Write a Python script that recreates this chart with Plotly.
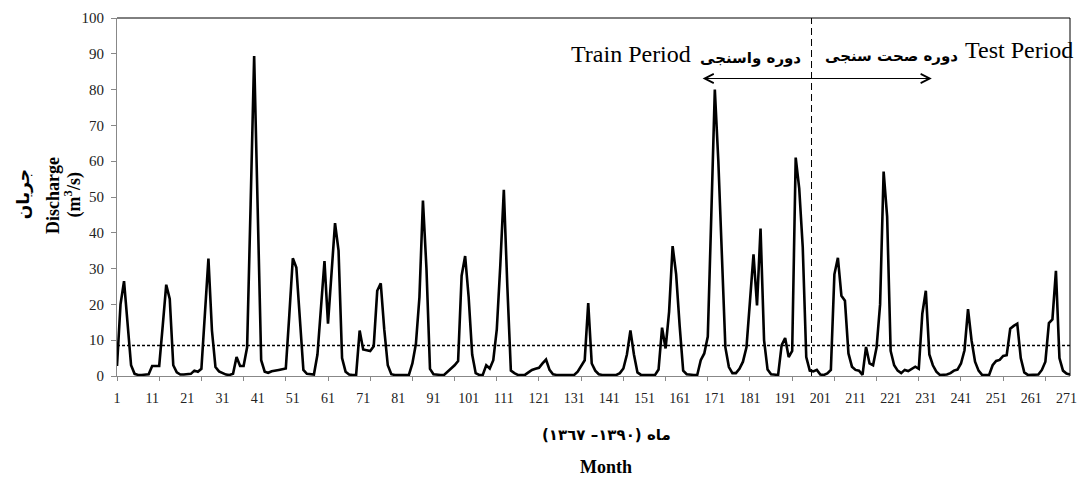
import plotly.graph_objects as go

# ---- data (monthly discharge, m3/s) ----
discharge = [
    2.8, 20, 26.5, 14, 3, 0.6, 0.3, 0.3, 0.3, 0.5,            # 1-10
    2.8, 2.8, 2.8, 14, 25.5, 21.5, 3, 1.0, 0.4, 0.4,          # 11-20
    0.4, 0.6, 1.5, 1.2, 2.0, 17, 32.8, 12.7, 2.5, 1.3,        # 21-30
    0.8, 0.4, 0.3, 0.6, 5.3, 2.8, 2.8, 8, 48, 89.4,           # 31-40
    47, 4.4, 1.2, 0.9, 1.3, 1.6, 1.7, 1.9, 2.1, 17,           # 41-50
    32.9, 30.3, 15, 1.7, 0.6, 0.4, 0.4, 6, 20, 32.1,          # 51-60
    14.6, 29, 42.7, 35, 5, 1.2, 0.4, 0.3, 0.3, 12.7,          # 61-70
    7.4, 7.2, 7.0, 8.3, 23.8, 25.9, 13, 3, 0.5, 0.3,          # 71-80
    0.3, 0.3, 0.3, 0.3, 3.5, 9, 22, 49, 30, 2,                # 81-90
    0.5, 0.3, 0.3, 0.3, 1.2, 2.0, 3.0, 4.2, 28, 33.5,         # 91-100
    22, 6, 0.8, 0.3, 0.3, 3.0, 2.1, 4.4, 13, 31,              # 101-110
    52, 25, 1.5, 0.8, 0.3, 0.3, 0.3, 1.0, 1.7, 2.0,           # 111-120
    2.3, 3.5, 4.6, 1.7, 0.5, 0.3, 0.3, 0.3, 0.3, 0.3,         # 121-130
    0.3, 1.2, 3.0, 4.4, 20.4, 3.5, 1.5, 0.5, 0.3, 0.3,        # 131-140
    0.3, 0.3, 0.3, 0.8, 2.1, 6, 12.7, 6, 1.0, 0.3,            # 141-150
    0.3, 0.3, 0.3, 0.3, 1.8, 13.5, 7.7, 18, 36.3, 28.4,       # 151-160
    14, 1.5, 0.5, 0.3, 0.3, 0.3, 4.4, 6.3, 11, 45,            # 161-170
    80, 60, 32, 8, 2.5, 0.8, 0.8, 2.0, 4, 8,                  # 171-180
    21, 34, 19.7, 41.2, 10, 1.8, 0.5, 0.3, 0.3, 8.6,          # 181-190
    10.6, 5.3, 7.0, 61, 52.4, 36, 5.3, 1.5, 1.3, 1.7,         # 191-200
    0.4, 0.3, 0.7, 1.7, 28.4, 33.0, 22.4, 21.0, 6.3, 2.6,     # 201-210
    1.7, 1.5, 0.3, 8.1, 3.5, 3.0, 8, 20, 57.1, 44.5,          # 211-220
    7.0, 3.0, 1.5, 0.8, 1.7, 1.4, 2.0, 2.6, 2.0, 17.4,        # 221-230
    23.8, 6, 3, 1.2, 0.3, 0.3, 0.4, 0.8, 1.5, 1.8,            # 231-240
    3.5, 7.2, 18.7, 10, 4, 1.5, 0.3, 0.3, 0.3, 3.0,           # 241-250
    4.2, 4.5, 5.6, 5.8, 13.2, 14.0, 14.6, 5.0, 1.0, 0.3,      # 251-260
    0.3, 0.3, 0.4, 1.7, 4.0, 14.8, 15.8, 29.4, 5, 1.5,        # 261-270
    0.7, 0.4,                                                 # 271-272
]
months = list(range(1, len(discharge) + 1))
mean_discharge = 8.5
split_month = 198.5
label_months = list(range(1, 272, 10))
year_tick_months = list(range(1, len(discharge) + 1, 12))
arrow_y = 83.1
arrow_start, arrow_end = 167.1, 232.7

SERIF = "Liberation Serif, Times New Roman, serif"
FA = "DejaVu Sans, sans-serif"

fig = go.Figure()
fig.add_trace(go.Scatter(x=months, y=discharge, mode="lines",
                         line=dict(color="black", width=2.6), hoverinfo="skip"))
fig.add_trace(go.Scatter(x=[months[0], months[-1]], y=[mean_discharge, mean_discharge],
                         xaxis="x2", mode="lines",
                         line=dict(color="black", width=1.4, dash="3px,2px"), hoverinfo="skip"))

xr = [months[0], months[-1]]
fig.update_layout(
    width=1087, height=477,
    margin=dict(l=117, r=10, t=15, b=101),
    paper_bgcolor="white", plot_bgcolor="white",
    showlegend=False,
    xaxis=dict(range=xr, tickmode="array", tickvals=year_tick_months,
               showticklabels=False, ticks="outside", ticklen=4, tickcolor="#888",
               showline=True, linecolor="#888", linewidth=1,
               showgrid=False, zeroline=False),
    xaxis2=dict(range=xr, overlaying="x", anchor="y", side="bottom",
                tickmode="array", tickvals=label_months,
                ticktext=[str(v) for v in label_months],
                ticks="", ticklabelstandoff=12,
                tickfont=dict(family=SERIF, size=14, color="#222"),
                showline=False, showgrid=False, zeroline=False),
    yaxis=dict(range=[0, 100], dtick=10, ticks="outside", ticklen=5, tickcolor="#888",
               showline=True, linecolor="#888", linewidth=1,
               tickfont=dict(family=SERIF, size=15, color="#222"),
               ticklabelstandoff=4,
               showgrid=False, zeroline=False),
)

# plot border (top / right)
fig.add_shape(type="line", xref="paper", yref="paper", x0=0, x1=1, y0=1, y1=1,
              line=dict(color="black", width=1))
fig.add_shape(type="line", xref="paper", yref="paper", x0=1, x1=1, y0=0, y1=1,
              line=dict(color="black", width=1))
# split line
fig.add_shape(type="line", xref="x", yref="paper", x0=split_month, x1=split_month, y0=0, y1=1,
              line=dict(color="black", width=1, dash="7px,4px"))

ann = []
ann.append(dict(x=arrow_end, y=arrow_y, ax=arrow_start, ay=arrow_y,
                xref="x", yref="y", axref="x", ayref="y", text="",
                showarrow=True, arrowside="end+start", arrowhead=5, startarrowhead=5,
                arrowwidth=1.2, arrowsize=1.5, startarrowsize=1.5, arrowcolor="black",
                standoff=0, startstandoff=0))
ann.append(dict(x=164.8, y=90.0, xref="x", yref="y", text="Train Period",
                xanchor="right", yanchor="middle", showarrow=False,
                font=dict(family=SERIF, size=24, color="black")))
ann.append(dict(x=196.2, y=88.9, xref="x", yref="y", text="<b>دوره واسنجی</b>",
                xanchor="right", yanchor="middle", showarrow=False,
                font=dict(family=FA, size=15, color="black")))
ann.append(dict(x=201.7, y=89.3, xref="x", yref="y", text="<b>دوره صحت سنجی</b>",
                xanchor="left", yanchor="middle", showarrow=False,
                font=dict(family=FA, size=15, color="black")))
ann.append(dict(x=241.6, y=91.1, xref="x", yref="y", text="Test Period",
                xanchor="left", yanchor="middle", showarrow=False,
                font=dict(family=SERIF, size=24, color="black")))
# y-axis titles
ann.append(dict(x=-0.0979, y=0.507, xref="paper", yref="paper", text="<b>جریان</b>",
                textangle=-90, xanchor="center", yanchor="middle", showarrow=False,
                font=dict(family=FA, size=17, color="black")))
ann.append(dict(x=-0.0677, y=0.504, xref="paper", yref="paper", text="<b>Discharge</b>",
                textangle=-90, xanchor="center", yanchor="middle", showarrow=False,
                font=dict(family=SERIF, size=18, color="black")))
ann.append(dict(x=-0.0458, y=0.5055, xref="paper", yref="paper", text="<b>(m<sup>3</sup>/s)</b>",
                textangle=-90, xanchor="center", yanchor="middle", showarrow=False,
                font=dict(family=SERIF, size=18, color="black")))
# x-axis titles
ann.append(dict(x=0.5135, y=-0.166, xref="paper", yref="paper",
                text="<b>\u200fماه (١٣٩٠– ١٣٦٧)\u200f</b>",
                xanchor="center", yanchor="middle", showarrow=False,
                font=dict(family=FA, size=15, color="black")))
ann.append(dict(x=0.5135, y=-0.2548, xref="paper", yref="paper", text="<b>Month</b>",
                xanchor="center", yanchor="middle", showarrow=False,
                font=dict(family=SERIF, size=18, color="black")))
fig.update_layout(annotations=ann)

fig.write_html("out.html")
